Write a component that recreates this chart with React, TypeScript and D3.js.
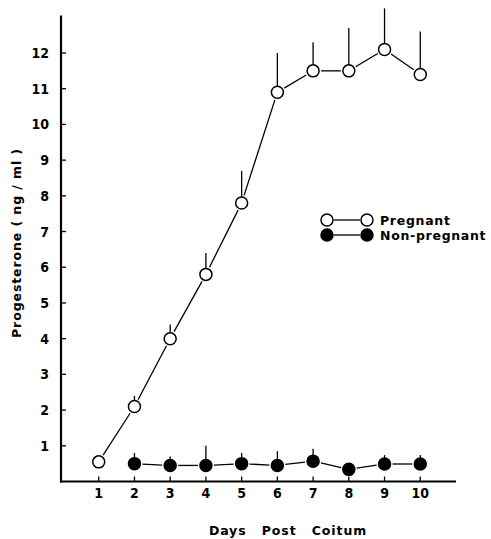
import React from "react";
import * as d3 from "d3";

// days post coitum
const days = [1, 2, 3, 4, 5, 6, 7, 8, 9, 10];
const yTicks = [1, 2, 3, 4, 5, 6, 7, 8, 9, 10, 11, 12];

// pregnant: mean and upper SE
const pregnantMean = [0.55, 2.1, 4.0, 5.8, 7.8, 10.9, 11.5, 11.5, 12.1, 11.4];
const pregnantSE = [0, 0.3, 0.4, 0.6, 0.9, 1.1, 0.8, 1.2, 1.15, 1.2];

// non-pregnant starts on day 2
const nonPregDays = [2, 3, 4, 5, 6, 7, 8, 9, 10];
const nonPregMean = [0.5, 0.45, 0.45, 0.5, 0.45, 0.57, 0.34, 0.49, 0.49];
const nonPregSE = [0.3, 0.25, 0.55, 0.3, 0.4, 0.35, 0, 0.25, 0.25];

const W = 491;
const H = 539;
const R = 6;

const tickFont = "'DejaVu Sans Condensed', 'Liberation Sans Narrow', Arial, sans-serif";
const titleFont = "'DejaVu Sans', Arial, Helvetica, sans-serif";

type Pt = { x: number; y: number; se: number };

// draws line pieces that stop short of the circles
const gappedSegments = (pts: [number, number][], gap: number) => {
  const segs: [number, number, number, number][] = [];
  for (let i = 0; i < pts.length - 1; i++) {
    const [x1, y1] = pts[i];
    const [x2, y2] = pts[i + 1];
    const len = Math.hypot(x2 - x1, y2 - y1);
    if (len <= gap * 2) continue;
    const ux = (x2 - x1) / len;
    const uy = (y2 - y1) / len;
    segs.push([x1 + ux * gap, y1 + uy * gap, x2 - ux * gap, y2 - uy * gap]);
  }
  return segs;
};

export default function App() {
  const x = d3.scaleLinear().domain([0, 11]).range([63, 456]);
  const y = d3.scaleLinear().domain([0, 12]).range([481.5, 53]);

  const pregnant: Pt[] = days.map((d, i) => ({ x: d, y: pregnantMean[i], se: pregnantSE[i] }));
  const nonPreg: Pt[] = nonPregDays.map((d, i) => ({ x: d, y: nonPregMean[i], se: nonPregSE[i] }));

  const series = [
    { name: "Pregnant", pts: pregnant, fill: "#fff" },
    { name: "Non-pregnant", pts: nonPreg, fill: "#000" },
  ];

  const axisX = 61;
  const axisY = y(0);

  return (
    <svg
      width={W}
      height={H}
      style={{ position: "absolute", left: 0, top: 0, background: "#fff" }}
    >
      {/* y axis */}
      <line x1={axisX} y1={y(13.05)} x2={axisX} y2={axisY + 1} stroke="#000" strokeWidth={2.2} />
      {yTicks.map((t) => (
        <g key={t}>
          <line x1={axisX} x2={axisX + 5} y1={y(t)} y2={y(t)} stroke="#000" strokeWidth={1.3} />
          <text
            x={49}
            y={y(t)}
            dy="0.36em"
            textAnchor="end"
            fontFamily={tickFont}
            fontWeight="bold"
            fontSize={14}
          >
            {t}
          </text>
        </g>
      ))}

      {/* x axis */}
      <line x1={axisX - 1} x2={x(11)} y1={axisY} y2={axisY} stroke="#000" strokeWidth={2.2} />
      {days.map((d) => (
        <g key={d}>
          <line x1={x(d)} x2={x(d)} y1={axisY} y2={axisY - 5} stroke="#000" strokeWidth={1.3} />
          <text
            x={x(d)}
            y={498}
            textAnchor="middle"
            fontFamily={tickFont}
            fontWeight="bold"
            fontSize={14}
          >
            {d}
          </text>
        </g>
      ))}

      {/* axis titles */}
      <text
        x={288}
        y={535}
        textAnchor="middle"
        fontFamily={titleFont}
        fontWeight="bold"
        fontSize={12.5}
        wordSpacing={10}
        letterSpacing={0.9}
      >
        Days Post Coitum
      </text>
      <text
        transform={`translate(21,${243}) rotate(-90)`}
        textAnchor="middle"
        fontFamily={titleFont}
        fontWeight="bold"
        fontSize={12.5}
        letterSpacing={0.9}
      >
        Progesterone ( ng / ml )
      </text>

      {series.map((s) => {
        const pts: [number, number][] = s.pts.map((p) => [x(p.x), y(p.y)]);
        return (
          <g key={s.name}>
            {gappedSegments(pts, R + 2).map((g, i) => (
              <line key={i} x1={g[0]} y1={g[1]} x2={g[2]} y2={g[3]} stroke="#000" strokeWidth={1.3} />
            ))}
            {s.pts
              .filter((p) => p.se > 0)
              .map((p) => (
                <line
                  key={"e" + p.x}
                  x1={x(p.x)}
                  x2={x(p.x)}
                  y1={y(p.y)}
                  y2={y(p.y + p.se)}
                  stroke="#000"
                  strokeWidth={1.3}
                />
              ))}
            {s.pts.map((p) => (
              <circle
                key={"c" + p.x}
                cx={x(p.x)}
                cy={y(p.y)}
                r={R}
                fill={s.fill}
                stroke="#000"
                strokeWidth={1.5}
              />
            ))}
          </g>
        );
      })}

      {/* legend */}
      {series.map((s, i) => {
        const ly = 220 + i * 15;
        return (
          <g key={"leg" + s.name}>
            <line x1={327 + R + 1} x2={367 - R - 1} y1={ly} y2={ly} stroke="#000" strokeWidth={1.3} />
            <circle cx={327} cy={ly} r={R} fill={s.fill} stroke="#000" strokeWidth={1.5} />
            <circle cx={367} cy={ly} r={R} fill={s.fill} stroke="#000" strokeWidth={1.5} />
            <text
              x={380}
              y={ly}
              dy="0.36em"
              fontFamily={titleFont}
              fontWeight="bold"
              fontSize={12.5}
              letterSpacing={0.7}
            >
              {s.name}
            </text>
          </g>
        );
      })}
    </svg>
  );
}
